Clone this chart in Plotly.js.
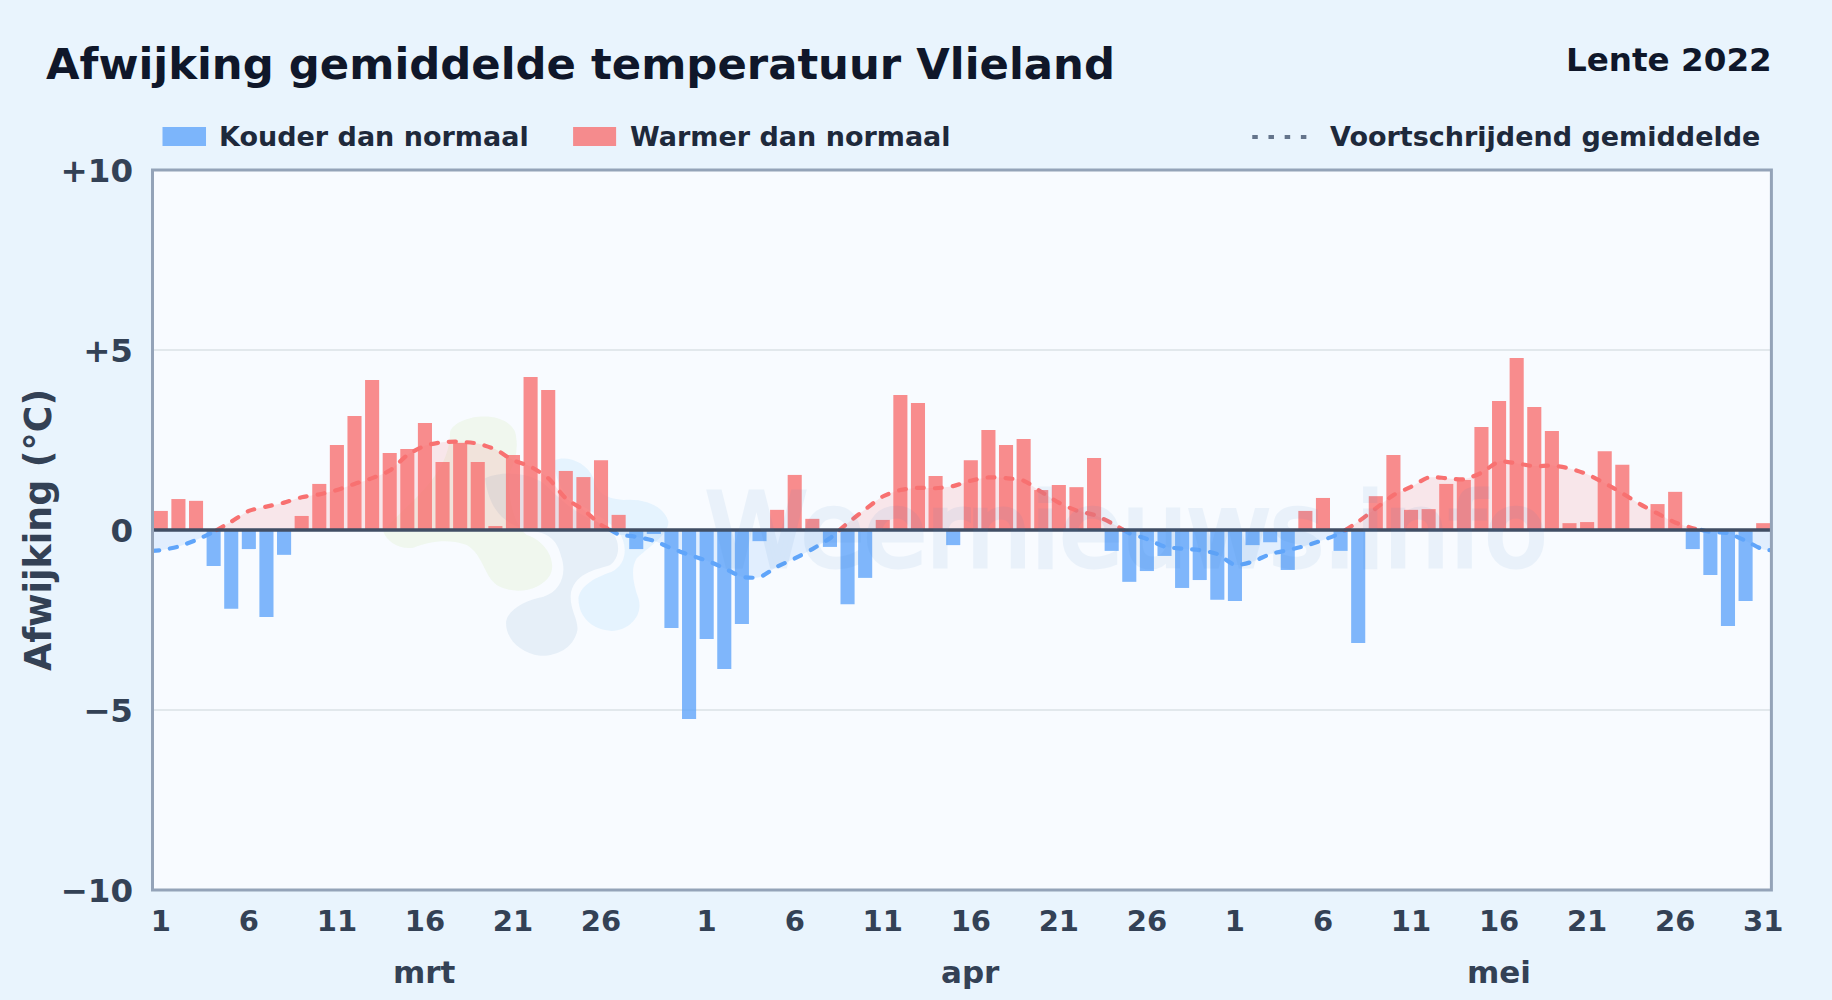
<!DOCTYPE html>
<html><head><meta charset="utf-8">
<script src="https://cdn.plot.ly/plotly-3.0.1.min.js"></script>
<style>
html,body{margin:0;padding:0;background:#e9f4fd;}
#c{width:1832px;height:1000px;}
.scatterlayer .js-line{stroke-linecap:round;}
.annotation[data-index="5"] text{stroke:#3b82c8;stroke-width:5px;}
.ytitle{translate:7px 0;}
</style></head><body><div id="c"></div>
<script>
// Daily deviation (°C), 1 March – 31 May 2022
const deviation = [
 0.53,0.86,0.81,-1.0,-2.19,-0.53,-2.42,-0.69,0.39,1.28,2.36,3.17,4.17,2.14,2.25,2.97,1.89,2.42,1.89,0.11,2.08,4.25,3.89,1.64,1.47,1.94,0.42,-0.53,-0.11,-2.72,-5.25,
 -3.03,-3.86,-2.61,-0.31,0.56,1.53,0.31,-0.47,-2.06,-1.33,0.28,3.75,3.53,1.5,-0.42,1.94,2.78,2.36,2.53,1.11,1.25,1.19,2.0,-0.58,-1.44,-1.14,-0.72,-1.61,-1.39,-1.94,
 -1.97,-0.42,-0.34,-1.11,0.53,0.89,-0.58,-3.14,0.94,2.08,0.56,0.58,1.28,1.39,2.86,3.58,4.78,3.42,2.75,0.19,0.22,2.19,1.81,0,0.72,1.06,-0.53,-1.25,-2.67,-1.97,0.19
];
// Moving average (first and last values sit on the plot edges)
const movingAvg = [
 -0.58,-0.56,-0.46,-0.28,-0.05,0.23,0.53,0.65,0.76,0.91,0.99,1.11,1.28,1.44,1.65,2.08,2.34,2.44,2.45,2.40,2.24,1.94,1.76,1.44,0.88,0.56,0.14,-0.12,-0.19,-0.30,-0.51,-0.69,
 -0.85,-1.06,-1.30,-1.31,-1.02,-0.79,-0.53,-0.23,0.19,0.57,0.93,1.11,1.17,1.16,1.22,1.37,1.46,1.44,1.37,1.06,0.76,0.54,0.42,0.19,-0.09,-0.25,-0.46,-0.52,-0.56,-0.67,
 -0.97,-0.88,-0.67,-0.56,-0.44,-0.28,-0.09,0.23,0.6,0.97,1.2,1.46,1.44,1.41,1.59,1.9,1.85,1.77,1.79,1.71,1.55,1.3,1.02,0.72,0.46,0.21,0.05,-0.05,-0.09,-0.3,-0.54,-0.56
];
const tickIndex = [0,5,10,15,20,25,31,36,41,46,51,56,61,66,71,76,81,86,91];
const tickLabels = ['1','6','11','16','21','26','1','6','11','16','21','26','1','6','11','16','21','26','31'];
const monthIndex = [15,46,76];
const monthLabels = ['mrt','apr','mei'];
const yTicks = [10,5,0,-5,-10];
const yLabels = ['+10','+5','0','\u22125','\u221210'];
const seriesNames = ['Kouder dan normaal','Warmer dan normaal','Voortschrijdend gemiddelde'];

const W=1832,H=1000,L=152,R=1771.6,T=170,B=890;
const fx=p=>(p-L)/(R-L), fy=p=>1-(p-T)/(B-T);
const days=deviation.map((_,i)=>i);
const FONT='"DejaVu Sans", sans-serif';
const BLUE='rgba(96,165,250,0.8)', RED='rgba(248,113,113,0.8)';

function runs(vals,sign){
  // positions run from the left plot edge (-0.5) over each day to the right edge (91.5)
  const pos=i=>i===0?-0.5:(i===vals.length-1?91.5:i-1);
  const xs=[],ys=[];
  vals.forEach((v,i)=>{
    if(sign*v>=0){xs.push(pos(i));ys.push(v);}
    const n=vals[i+1];
    if(n!==undefined && v*n<0){
      const c=pos(i)+(pos(i+1)-pos(i))*v/(v-n);
      xs.push(c);ys.push(0);
      if(sign*v>=0){xs.push(null);ys.push(null);}
    }
  });
  return {x:xs,y:ys};
}
const pos=runs(movingAvg,1), neg=runs(movingAvg,-1);
const LINE_W=4.2, DASH='7px,11px', SMOOTH=0.7;

const traces=[
 {type:'bar',name:seriesNames[0],x:days,y:deviation.map(v=>v<0?v:null),width:0.8,marker:{color:BLUE,line:{width:0}},hoverinfo:'y'},
 {type:'bar',name:seriesNames[1],x:days,y:deviation.map(v=>v>=0?v:null),width:0.8,marker:{color:RED,line:{width:0}},hoverinfo:'y'},
 {type:'scatter',mode:'lines',name:seriesNames[2],x:neg.x,y:neg.y,fill:'tozeroy',fillcolor:'rgba(96,165,250,0.15)',line:{color:'#60a5fa',width:LINE_W,dash:DASH,shape:'spline',smoothing:SMOOTH},hoverinfo:'skip'},
 {type:'scatter',mode:'lines',name:seriesNames[2],x:pos.x,y:pos.y,fill:'tozeroy',fillcolor:'rgba(248,113,113,0.15)',line:{color:'#f87171',width:LINE_W,dash:DASH,shape:'spline',smoothing:SMOOTH},hoverinfo:'skip'}
];

// watermark logo outlines
function blob(d,color){
  const nums=d.match(/[A-Za-z]|-?[\d.]+/g);let out='',k=0;
  nums.forEach(t=>{
    if(/[A-Za-z]/.test(t)){out+=t;k=0;}
    else{const v=+t;const page=k%2===0?370+v/3:395+v/3;out+=(k%2===0?fx(page):fy(page)).toFixed(5)+' ';k++;}
  });
  return {type:'path',xref:'paper',yref:'paper',path:out,fillcolor:color,line:{width:0},layer:'below'};
}
const shapes=[
 blob('M 240,110 C 260,60 400,40 435,110 C 445,150 440,190 420,230 C 410,300 430,390 470,420 C 530,440 560,500 540,540 C 510,590 430,600 380,570 C 340,540 340,480 290,450 C 230,430 180,440 130,458 C 90,465 50,440 40,410 C 100,330 240,250 240,110 Z','rgba(187,222,120,0.13)'),
 blob('M 345,250 C 400,225 480,235 520,265 C 560,300 600,350 690,385 C 750,410 760,480 720,510 C 680,525 620,530 603,590 C 595,640 625,670 622,705 C 610,765 550,785 510,782 C 450,775 405,730 408,680 C 415,640 470,615 520,605 C 570,590 590,540 575,490 C 565,450 550,420 500,410 C 430,400 360,370 345,250 Z','rgba(80,140,190,0.10)'),
 blob('M 555,195 C 590,180 650,200 670,250 C 680,290 700,310 760,315 C 820,310 880,330 895,380 C 895,420 830,460 800,490 C 780,520 790,570 805,610 C 820,660 780,705 725,708 C 670,705 625,670 625,610 C 630,570 680,545 725,530 C 770,510 775,450 745,410 C 710,370 650,345 600,310 C 565,280 550,230 555,195 Z','rgba(100,190,250,0.12)'),
 // zero line
 {type:'line',xref:'paper',yref:'y',x0:fx(152.5),x1:fx(1771),y0:0,y1:0,line:{color:'#414e64',width:3.4},layer:'above'},
 // plot frame
 {type:'rect',xref:'paper',yref:'paper',x0:fx(152.5),x1:fx(1771),y0:fy(170),y1:fy(890),fillcolor:'rgba(0,0,0,0)',line:{color:'#94a3b8',width:3},layer:'above'},
 // legend swatches
 {type:'rect',xref:'paper',yref:'paper',x0:fx(162.5),x1:fx(206),y0:fy(127),y1:fy(146),fillcolor:BLUE,line:{width:0}},
 {type:'rect',xref:'paper',yref:'paper',x0:fx(573),x1:fx(616),y0:fy(127),y1:fy(146),fillcolor:RED,line:{width:0}},
 {type:'line',xref:'paper',yref:'paper',x0:fx(1252),x1:fx(1309),y0:fy(137),y1:fy(137),line:{color:'#64748b',width:4,dash:'5.5px,10.7px'}}
];

function label(text,px,py,size,color,anchor,weight){
  return {text,xref:'paper',yref:'paper',x:fx(px),y:fy(py),xanchor:anchor,yanchor:'middle',showarrow:false,borderpad:0,borderwidth:0,
          font:{family:FONT,size,color,weight:weight===undefined?700:weight}};
}
const annotations=[
 label('Afwijking gemiddelde temperatuur Vlieland',46,64.5,43.35,'#0f172a','left'),
 label('Lente 2022',1772,59.5,32.6,'#0f172a','right'),
 label(seriesNames[0],219,137,27,'#1e293b','left'),
 label(seriesNames[1],630,137,27,'#1e293b','left'),
 label(seriesNames[2],1330,137,27,'#1e293b','left'),
 Object.assign(label('Weernieuws.info',1126,530,102,'#3b82c8','center',400),{opacity:0.075})
];
monthLabels.forEach((m,i)=>annotations.push({text:m,xref:'x',yref:'paper',x:monthIndex[i],y:fy(972),xanchor:'center',yanchor:'middle',showarrow:false,borderpad:0,borderwidth:0,font:{family:FONT,size:31,color:'#334155',weight:700}}));

const layout={
 width:W,height:H,autosize:false,showlegend:false,barmode:'overlay',
 paper_bgcolor:'rgba(0,0,0,0)',plot_bgcolor:'#f8fbff',
 margin:{l:L,r:W-R,t:T,b:H-B,pad:0},
 font:{family:FONT,color:'#334155'},
 xaxis:{range:[-0.5,91.5],tickmode:'array',tickvals:tickIndex,ticktext:tickLabels,showgrid:false,zeroline:false,
        showline:false,ticks:'',ticklabelstandoff:11,
        tickangle:0,tickfont:{family:FONT,size:29,color:'#334155',weight:700}},
 yaxis:{range:[-10,10],tickmode:'array',tickvals:yTicks,ticktext:yLabels,gridcolor:'#e2e8ec',gridwidth:2,zeroline:false,
        showline:false,ticks:'',ticklabelstandoff:18,ticklabelshift:1,
        tickfont:{family:FONT,size:32.5,color:'#334155',weight:700},
        title:{text:'Afwijking (°C)',standoff:4,font:{family:FONT,size:36.4,color:'#334155',weight:700}}},
 shapes,annotations,
 hovermode:false
};
Plotly.newPlot('c',traces,layout,{displayModeBar:false,staticPlot:true});
</script></body></html>
